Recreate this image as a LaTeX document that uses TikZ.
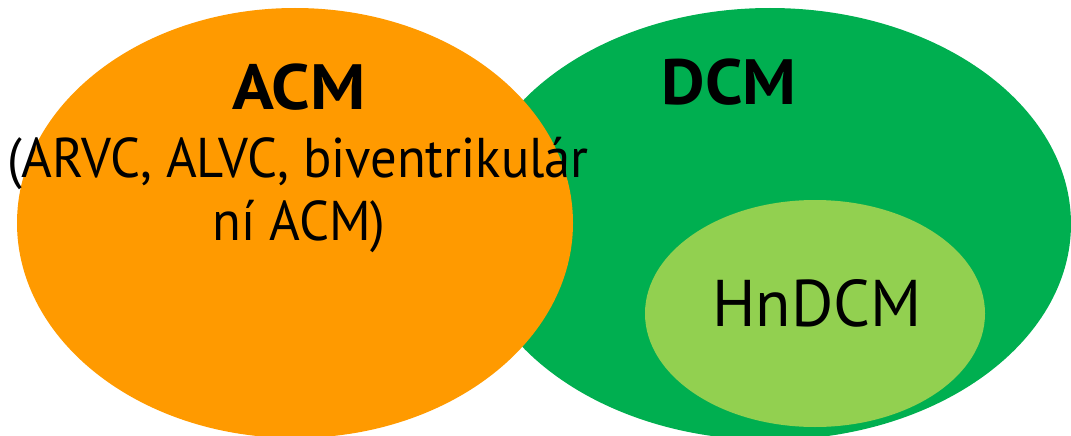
\documentclass[tikz,border=0pt]{standalone}
\usepackage{fontspec}
\setmainfont{PT Sans}
\usetikzlibrary{shapes.geometric}
\definecolor{acmorange}{HTML}{FF9A00}
\definecolor{dcmgreen}{HTML}{00AF50}
\definecolor{hngreen}{HTML}{92D050}
\tikzset{
  blob/.style={ellipse, inner sep=0pt, draw=none},
  lbl/.style={anchor=base, inner sep=0pt, text=black},
}
\begin{document}
\begin{tikzpicture}[x=1pt,y=-1pt]
\useasboundingbox (0,0) rectangle (1071,436);
\node[blob, fill=dcmgreen, minimum width=602pt, minimum height=432pt] (dcm) at (770,224) {};
\node[blob, fill=hngreen, minimum width=340pt, minimum height=227pt] (hn) at (815,313.5) {};
\node[blob, fill=acmorange, minimum width=556pt, minimum height=430pt] (acm) at (295,223) {};
\node[lbl, font=\fontsize{64}{64}\selectfont\bfseries] (acmt) at (299,110) {\scalebox{1.08}[1]{ACM}};
\node[lbl, font=\fontsize{56}{56}\selectfont] (acml1) at (298,177) {\scalebox{0.94}[1]{(ARVC, ALVC, biventrikulár}};
\node[lbl, font=\fontsize{56}{56}\selectfont] (acml2) at (299,240) {\scalebox{0.94}[1]{ní ACM)}};
\node[lbl, font=\fontsize{64}{64}\selectfont\bfseries] (dcmt) at (729,104) {\scalebox{1.05}[1]{DCM}};
\node[lbl, font=\fontsize{66}{66}\selectfont] (hnt) at (817,326) {\scalebox{0.98}[1]{HnDCM}};
\end{tikzpicture}
\end{document}
